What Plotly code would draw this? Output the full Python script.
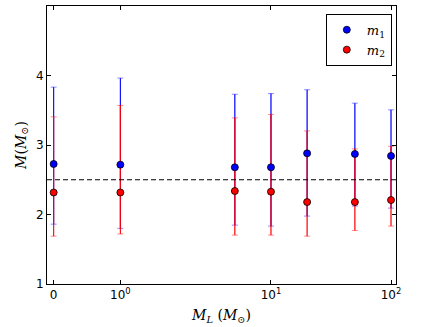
import numpy as np
import plotly.graph_objects as go

# lens mass M_L (Msun) and the two component masses with their error ranges
m_lens = [0, 1, 5, 10, 20, 50, 100]
m1 = [2.727, 2.717, 2.679, 2.679, 2.880, 2.871, 2.843]
m1_hi = [3.833, 3.963, 3.730, 3.740, 3.795, 3.602, 3.506]
m1_lo = [1.861, 1.800, 1.847, 1.833, 1.977, 2.121, 2.092]
m2 = [2.317, 2.317, 2.338, 2.328, 2.179, 2.179, 2.208]
m2_hi = [3.405, 3.569, 3.390, 3.440, 3.203, 2.944, 2.981]
m2_lo = [1.688, 1.720, 1.703, 1.703, 1.688, 1.770, 1.833]
m_ref = 2.5

tick_vals = [0, 1, 10, 100]
tick_text = ["0", "10<sup>0</sup>", "10<sup>1</sup>", "10<sup>2</sup>"]
x_lim = (-0.1, 110)


def symlog(v, thresh=2.0, linscale=1.0):
    # same mapping as matplotlib's symlog scale (base 10)
    v = np.asarray(v, dtype=float)
    adj = linscale / (1 - 1 / 10)
    a = np.abs(v)
    lin = v * adj / thresh
    log = np.sign(v) * (adj + np.log10(np.maximum(a, thresh) / thresh))
    return np.where(a <= thresh, lin, log)


xs = symlog(m_lens)
fig = go.Figure()


def err(center, hi, lo):
    c = np.array(center)
    return dict(type="data", symmetric=False, array=np.array(hi) - c,
                arrayminus=c - np.array(lo))


series = [
    (m1, m1_hi, m1_lo, "#0000ff", "rgba(0,0,255,0.45)", "<i>m</i><sub>1</sub>"),
    (m2, m2_hi, m2_lo, "#ff0000", "rgba(255,0,0,0.45)", "<i>m</i><sub>2</sub>"),
]

for vals, hi, lo, col, light, name in series:
    e = err(vals, hi, lo)
    fig.add_trace(go.Scatter(x=xs, y=vals, mode="none", showlegend=False, hoverinfo="skip",
                             error_y=dict(e, color=light, thickness=1, width=3)))
    fig.add_trace(go.Scatter(x=xs, y=vals, mode="none", showlegend=False, hoverinfo="skip",
                             error_y=dict(e, color=col, thickness=1, width=0)))

for vals, hi, lo, col, light, name in series:
    fig.add_trace(go.Scatter(x=xs, y=vals, mode="markers", name=name,
                             marker=dict(color=col, size=7, line=dict(color="black", width=0.8))))

fig.add_hline(y=m_ref, line=dict(color="black", width=1, dash="5px,3px"))

axis_common = dict(showgrid=False, zeroline=False, showline=True, linecolor="black",
                   linewidth=1, mirror="ticks", ticks="inside", ticklen=4,
                   tickcolor="black", tickfont=dict(family="DejaVu Sans", size=12, color="black"))

fig.update_xaxes(axis_common, range=list(symlog(x_lim)), tickmode="array",
                 tickvals=symlog(tick_vals), ticktext=tick_text,
                 title=dict(text="<i>M</i><sub><i>L</i></sub> (<i>M</i><sub>⊙</sub>)",
                            font=dict(family="DejaVu Serif", size=14, color="black"), standoff=8))
fig.update_yaxes(axis_common, range=[1, 5], tickvals=[1, 2, 3, 4],
                 title=dict(text="<i>M</i>(<i>M</i><sub>⊙</sub>)",
                            font=dict(family="DejaVu Serif", size=14, color="black"), standoff=6))

fig.update_layout(
    width=436, height=327,
    margin=dict(l=47, r=40, t=6, b=43, autoexpand=False),
    plot_bgcolor="white", paper_bgcolor="white",
    legend=dict(x=0.988, y=0.972, xanchor="right", yanchor="top",
                bordercolor="black", borderwidth=1, bgcolor="white",
                font=dict(family="DejaVu Serif", size=13, color="black"),
                itemwidth=30, tracegroupgap=0),
)

# the page body has a default margin; drop it so the figure fills the window
fig.write_html("out.html", config={"displayModeBar": False},
               post_script="document.body.style.margin='0';")
